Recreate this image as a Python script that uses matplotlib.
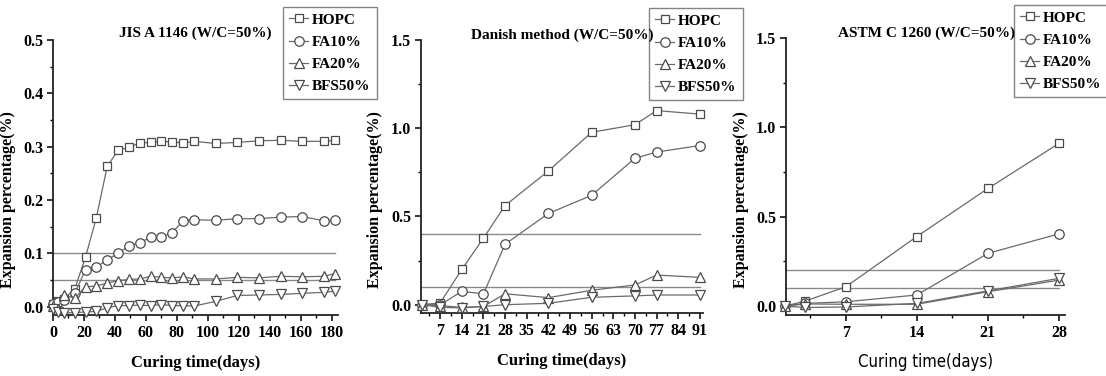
import matplotlib
matplotlib.use("Agg")
import matplotlib.pyplot as plt
from matplotlib.ticker import MultipleLocator

plt.rcParams['font.family'] = ['Liberation Serif', 'DejaVu Serif']
plt.rcParams['font.weight'] = 'bold'

series_names = ["HOPC", "FA10%", "FA20%", "BFS50%"]
markers = ["s", "o", "^", "v"]

# Panel 1: JIS A 1146
jis_days = [0, 3, 7, 14, 21, 28, 35, 42, 49, 56, 63, 70, 77, 84, 91, 105, 119, 133, 147, 161, 175, 182]
jis_hopc = [0.005, 0.010, 0.015, 0.033, 0.093, 0.167, 0.263, 0.293, 0.299, 0.307, 0.308, 0.310, 0.309, 0.307, 0.310, 0.306, 0.308, 0.311, 0.312, 0.310, 0.310, 0.312]
jis_fa10 = [0.005, 0.008, 0.012, 0.025, 0.069, 0.074, 0.088, 0.100, 0.114, 0.120, 0.130, 0.130, 0.139, 0.161, 0.163, 0.162, 0.165, 0.165, 0.168, 0.169, 0.161, 0.162]
jis_fa20 = [0.002, -0.005, 0.022, 0.016, 0.037, 0.039, 0.044, 0.049, 0.051, 0.052, 0.057, 0.055, 0.054, 0.056, 0.052, 0.052, 0.055, 0.054, 0.057, 0.056, 0.057, 0.062]
jis_bfs = [-0.005, -0.010, -0.012, -0.011, -0.010, -0.009, -0.002, 0.002, 0.002, 0.003, 0.002, 0.004, 0.002, 0.002, 0.001, 0.010, 0.021, 0.022, 0.023, 0.025, 0.027, 0.029]
jis_limits = [0.1, 0.05]

# Panel 2: Danish method
dan_days = [1, 7, 14, 21, 28, 42, 56, 70, 77, 91]
dan_hopc = [0.0, 0.01, 0.20, 0.377, 0.562, 0.758, 0.977, 1.02, 1.10, 1.08]
dan_fa10 = [0.0, 0.0, 0.075, 0.062, 0.343, 0.517, 0.620, 0.830, 0.865, 0.902]
dan_fa20 = [0.0, -0.005, -0.015, -0.010, 0.062, 0.040, 0.082, 0.112, 0.168, 0.155]
dan_bfs = [0.0, -0.015, -0.018, -0.010, 0.0, 0.008, 0.042, 0.050, 0.055, 0.055]
dan_limits = [0.4, 0.1]

# Panel 3: ASTM C 1260
astm_days = [1, 3, 7, 14, 21, 28]
astm_hopc = [0.0, 0.028, 0.108, 0.389, 0.658, 0.910]
astm_fa10 = [0.0, 0.015, 0.024, 0.062, 0.295, 0.404]
astm_fa20 = [0.0, 0.012, 0.010, 0.010, 0.080, 0.145]
astm_bfs = [0.0, -0.008, -0.005, 0.015, 0.085, 0.155]
astm_limits = [0.2, 0.1]

W, H = 1106, 376
fig = plt.figure(figsize=(W / 100, H / 100), dpi=100)

def px_axes(left, right, top, bottom):
    return fig.add_axes([left / W, 1 - bottom / H, (right - left) / W, (bottom - top) / H])

LINE_C = "#6a6a6a"
EDGE_C = "#4a4a4a"
REF_C = "#8a8a8a"
MS = {"s": 6, "o": 6.8, "^": 7, "v": 7}

def draw(ax, days, data, limits, xlim, ylim, xmin, ymin, xticks, yticks,
         title, title_xy, legend_xy, ylabel_x, sans_xlabel=False):
    for lim in limits:
        ax.plot([xlim[0], days[-1]], [lim, lim], color=REF_C, lw=1.0, zorder=1)
    handles = []
    for vals, m, name in zip(data, markers, series_names):
        h, = ax.plot(days, vals, color=LINE_C, lw=0.9, marker=m, ms=MS[m],
                     mfc="white", mec=EDGE_C, mew=0.9, clip_on=False, zorder=3, label=name)
        handles.append(h)
    ax.set_xlim(*xlim)
    ax.set_ylim(*ylim)
    for s in ("top", "right"):
        ax.spines[s].set_visible(False)
    for s in ("left", "bottom"):
        ax.spines[s].set_linewidth(1.3)
        ax.spines[s].set_color("#222222")
    ax.xaxis.set_minor_locator(MultipleLocator(xmin))
    ax.yaxis.set_minor_locator(MultipleLocator(ymin))
    ax.set_xticks(xticks)
    ax.set_yticks(yticks)
    ax.set_yticklabels([f"{v:.1f}" for v in yticks])
    ax.tick_params(which="major", direction="out", length=4, width=1.1, labelsize=11.5, pad=3)
    ax.tick_params(which="minor", direction="out", length=2.5, width=1.0)
    for lab in ax.get_xticklabels() + ax.get_yticklabels():
        lab.set_fontweight("bold")
    if sans_xlabel:
        ax.set_xlabel("Curing time(days)", fontsize=12, family="DejaVu Sans",
                      fontstretch="condensed", fontweight="normal", labelpad=9)
    else:
        ax.set_xlabel("Curing time(days)", fontsize=12, fontweight="bold", labelpad=10)
    ax.set_ylabel("Expansion percentage(%)", fontsize=11.5, fontweight="bold")
    ax.yaxis.set_label_coords(ylabel_x / W, 1 - 200 / H, transform=fig.transFigure)
    fig.text(title_xy[0] / W, 1 - title_xy[1] / H, title, ha="center", va="center",
             fontsize=11, fontweight="bold")
    leg = ax.legend(handles=handles, loc="upper left",
                    bbox_to_anchor=(legend_xy[0] / W, 1 - legend_xy[1] / H),
                    bbox_transform=fig.transFigure, borderaxespad=0,
                    fontsize=11, frameon=True, fancybox=False, edgecolor="#666666",
                    handlelength=1.25, handletextpad=0.25, labelspacing=0.55,
                    borderpad=0.4)
    leg.get_frame().set_linewidth(1.0)
    for t in leg.get_texts():
        t.set_fontweight("bold")
    return ax

ax1 = px_axes(53, 338, 40, 315)
draw(ax1, jis_days, [jis_hopc, jis_fa10, jis_fa20, jis_bfs], jis_limits,
     (0, 184), (-0.0156, 0.5), 10, 0.05,
     list(range(0, 181, 20)), [0.0, 0.1, 0.2, 0.3, 0.4, 0.5],
     "JIS A 1146 (W/C=50%)", (195, 33), (283, 7), 16)

ax2 = px_axes(421, 703, 40, 313)
draw(ax2, dan_days, [dan_hopc, dan_fa10, dan_fa20, dan_bfs], dan_limits,
     (0.8, 92), (-0.047, 1.5), 3.5, 0.25,
     list(range(7, 92, 7)), [0.0, 0.5, 1.0, 1.5],
     "Danish method (W/C=50%)", (562, 35), (649, 8), 383)

ax3 = px_axes(786, 1065, 38, 315)
draw(ax3, astm_days, [astm_hopc, astm_fa10, astm_fa20, astm_bfs], astm_limits,
     (1.1, 28.6), (-0.05, 1.5), 3.5, 0.25,
     [7, 14, 21, 28], [0.0, 0.5, 1.0, 1.5],
     "ASTM C 1260 (W/C=50%)", (927, 33), (1014, 5), 749, sans_xlabel=True)

fig.savefig("out.png", dpi=100, facecolor="white")
